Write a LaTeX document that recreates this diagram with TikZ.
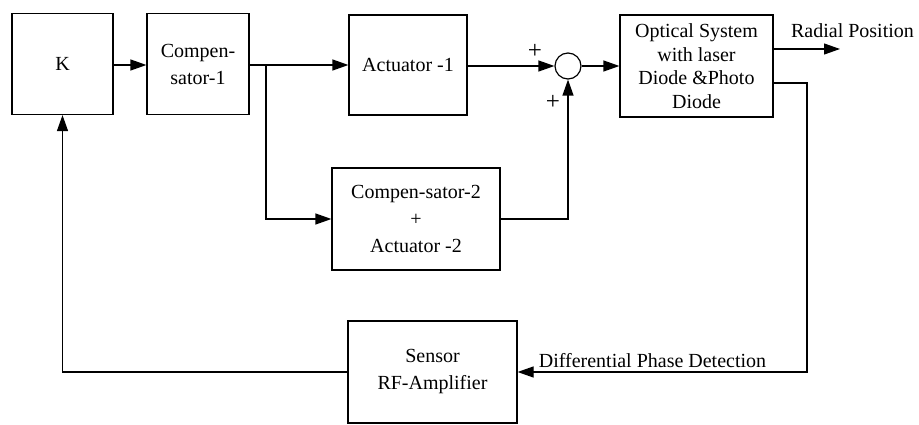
\documentclass[tikz,border=0pt]{standalone}
\usepackage{fontspec}
\setmainfont{Liberation Serif}
\usetikzlibrary{arrows.meta}

\begin{document}
\begin{tikzpicture}[x=1pt,y=-1pt,line width=1.2pt,
		>={Triangle[length=16pt,width=11pt]},
		font=\fontsize{20}{27}\selectfont,
		block/.style={draw, inner sep=0pt, align=center},
		sumnode/.style={draw, circle, minimum size=26pt, inner sep=0pt},
		label/.style={inner sep=0pt}]
			\useasboundingbox (0,0) rectangle (919,425);
			\node[block, minimum width=101pt, minimum height=101pt] (K) at (62.5,64) {K};
			\node[block, minimum width=102pt, minimum height=101pt] (comp1) at (198,64) {Compen-\\sator-1};
			\node[block, minimum width=118pt, minimum height=100pt] (act1) at (408,65) {Actuator -1};
			\node[sumnode] (sum) at (568,66) {};
			\node[block, minimum width=153pt, minimum height=102pt, font=\fontsize{20}{23.5}\selectfont] (optical) at (696.5,66) {Optical System\\with laser\\Diode \&Photo\\Diode};
			\node[block, minimum width=168pt, minimum height=102pt] (comp2) at (416,219) {Compen-sator-2\\+\\Actuator -2};
			\node[block, minimum width=169pt, minimum height=102pt] (sensor) at (432.5,372) {Sensor\\RF-Amplifier};
			\coordinate (split) at (266,65);
			\coordinate (radial) at (840,49);
			\coordinate (corner) at (807,372);
			\draw[->] (K.east |- 0,65) -- (comp1.west |- 0,65);
			\draw[->] (comp1.east |- 0,65) -- (act1.west |- 0,65);
			\draw[->] (split) |- (comp2.west);
			\draw[->] (act1.east |- sum.west) -- (sum.west);
			\draw[->] (comp2.east) -| (sum.south);
			\draw[->] (sum.east) -- (optical.west);
			\draw[->] ([yshift=17pt]optical.east) -- (radial);
			\draw[->] ([yshift=-17pt]optical.east) -| (corner) -- (sensor.east);
			\draw[->] (sensor.west) -| (K.south);
			\node[label, font=\fontsize{25}{27}\selectfont] (plusA) at (535,51) {+};
			\node[label, font=\fontsize{25}{27}\selectfont] (plusB) at (553,102) {+};
			\node[label] (radialtxt) at (852.5,31) {Radial Position};
			\node[label] (dpd) at (652.5,361) {Differential Phase Detection};
		\end{tikzpicture}
\end{document}
